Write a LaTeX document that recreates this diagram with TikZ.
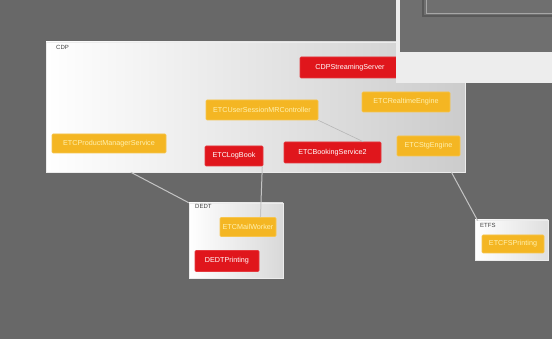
\documentclass[tikz,border=0pt]{standalone}
\usepackage{fontspec}
\setmainfont{Liberation Sans}
\usetikzlibrary{calc}
\definecolor{bg}{HTML}{686868}
\definecolor{ylw}{HTML}{F4B623}
\definecolor{ylwtxt}{HTML}{FFF1B0}
\definecolor{rd}{HTML}{E0161C}
\definecolor{conn}{HTML}{C4C4C4}
\definecolor{panelw}{HTML}{EDEDED}
\tikzset{
  comp/.style={rounded corners=1pt, inner sep=0pt, font=\fontsize{7.2}{8}\selectfont},
  yl/.style={comp, fill=ylw, text=ylwtxt, draw=ylw!80!white, line width=0.6pt},
  rdn/.style={comp, fill=rd, text=white, draw=rd!85!white, line width=0.6pt},
  group/.style={inner sep=0pt, draw=white!85!gray, line width=0.6pt},
  glabel/.style={font=\fontsize{6}{7}\selectfont, text=black!75, inner sep=0pt, anchor=north west},
  connector/.style={draw=conn, line width=1pt}
}
\begin{document}
\begin{tikzpicture}[x=1pt,y=-1pt]
\fill[bg] (0,0) rectangle (552,339);
\useasboundingbox (0,0) rectangle (552,339);
% groups
\node[group, minimum width=419pt, minimum height=130pt, left color=white, right color=gray!40] (cdp) at (255.5,107) {};
\node[glabel] (cdplbl) at (56,45) {CDP};
\node[group, minimum width=94pt, minimum height=75pt, left color=white, right color=gray!30] (dedt) at (236,240.5) {};
\node[glabel] (dedtlbl) at (195,204) {DEDT};
\node[group, minimum width=73pt, minimum height=40pt, left color=white, right color=gray!25] (etfs) at (511.5,240) {};
\node[glabel] (etfslbl) at (480,223) {ETFS};
% components in CDP
\node[rdn, minimum width=100pt, minimum height=21pt] (stream) at (350,67.5) {CDPStreamingServer};
\node[yl, minimum width=88pt, minimum height=20pt] (realtime) at (406,102) {ETCRealtimeEngine};
\node[yl, minimum width=112pt, minimum height=20pt] (usersess) at (262,110) {ETCUserSessionMRController};
\node[yl, minimum width=114pt, minimum height=19pt] (product) at (109,143.5) {ETCProductManagerService};
\node[rdn, minimum width=58pt, minimum height=20pt] (logbook) at (234,156) {ETCLogBook};
\node[rdn, minimum width=97pt, minimum height=21pt] (booking) at (332.5,152.5) {ETCBookingService2};
\node[yl, minimum width=63pt, minimum height=20pt] (stg) at (428.5,146) {ETCStgEngine};
% components in DEDT
\node[yl, minimum width=56pt, minimum height=19pt] (mail) at (248,227) {ETCMailWorker};
\node[rdn, minimum width=64pt, minimum height=21pt] (printing) at (227,261) {DEDTPrinting};
% component in ETFS
\node[yl, minimum width=62pt, minimum height=18pt] (fsprint) at (513,244) {ETCFSPrinting};
% connectors
\draw[connector] ($(cdp.south west)!0.203!(cdp.south east)$) -- (dedt.north west);
\draw[connector] ($(cdp.south west)!0.967!(cdp.south east)$) -- ($(etfs.north west)+(3,1)$);
\draw[connector] ($(logbook.south east)+(-1,0)$) -- ($(mail.north west)!0.72!(mail.north east)$);
\draw[draw=conn!80!gray, line width=0.6pt] (usersess.south east) -- ($(booking.north east)+(-18,0)$);
% overlay window
\fill[bg!95!white] (397,0) rectangle (552,52);
\fill[panelw] (397,52) rectangle (552,83);
\fill[panelw] (396,0) rectangle (400,83);
\draw[black!65, line width=1.2pt] (423,-2) -- (423,16) -- (553,16);
\draw[black!35, line width=0.5pt] (426,-2) -- (426,13) -- (553,13);
\end{tikzpicture}
\end{document}
